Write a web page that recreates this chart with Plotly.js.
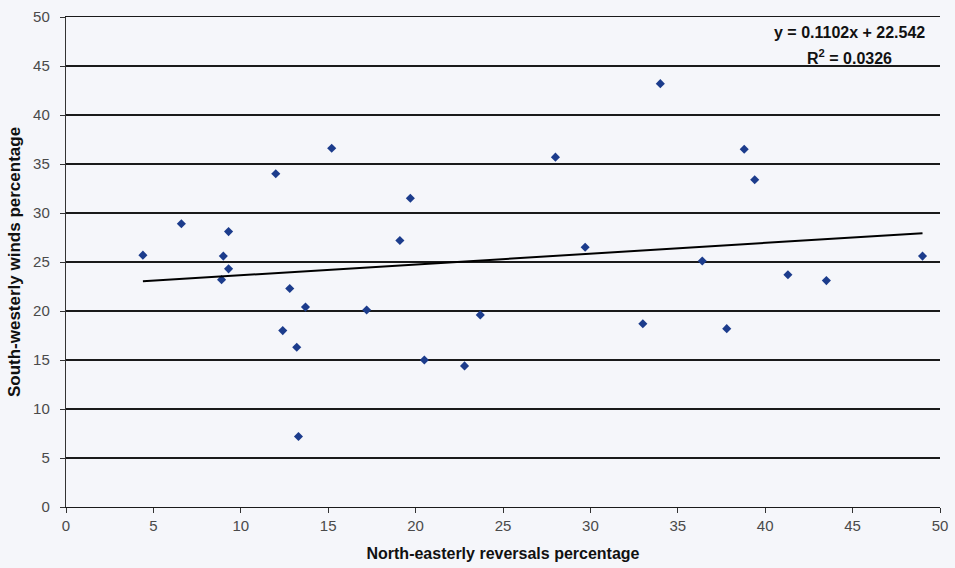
<!DOCTYPE html>
<html>
<head>
<meta charset="utf-8">
<script src="https://cdn.plot.ly/plotly-3.0.1.min.js"></script>
<style>
  html, body { margin: 0; padding: 0; background: #f5f6fa; }
  #chart { width: 955px; height: 568px; }
</style>
</head>
<body>
<div id="chart"></div>
<script>
// North-easterly reversals percentage (x)
const neReversals = [4.4, 6.6, 9.3, 9.0, 9.3, 8.9, 12.0, 12.8, 13.7, 12.4,
                     13.2, 13.3, 15.2, 19.1, 19.7, 17.2, 20.5, 23.7, 22.8, 28.0,
                     29.7, 34.0, 33.0, 36.4, 38.8, 39.4, 37.8, 41.3, 43.5, 49.0];
// South-westerly winds percentage (y)
const swWinds = [25.7, 28.9, 28.1, 25.6, 24.3, 23.2, 34.0, 22.3, 20.4, 18.0,
                 16.3, 7.2, 36.6, 27.2, 31.5, 20.1, 15.0, 19.6, 14.4, 35.7,
                 26.5, 43.2, 18.7, 25.1, 36.5, 33.4, 18.2, 23.7, 23.1, 25.6];
// Linear trend reported on the chart
const slope = 0.1102;
const intercept = 22.542;
const rSquared = 0.0326;
const xTickVals = [0, 5, 10, 15, 20, 25, 30, 35, 40, 45, 50];
const yTickVals = [0, 5, 10, 15, 20, 25, 30, 35, 40, 45, 50];

const xMin = Math.min(...neReversals);
const xMax = Math.max(...neReversals);
const trendX = [xMin, xMax];
const trendY = trendX.map(v => slope * v + intercept);

const font = 'Liberation Sans, Arial, sans-serif';

const data = [
  {
    x: neReversals, y: swWinds, type: 'scatter', mode: 'markers',
    marker: { symbol: 'diamond', size: 7, color: '#1c3c8c' },
    hoverinfo: 'x+y'
  },
  {
    x: trendX, y: trendY, type: 'scatter', mode: 'lines',
    line: { color: '#000000', width: 2 },
    hoverinfo: 'skip'
  }
];

const layout = {
  width: 955, height: 568,
  paper_bgcolor: '#f5f6fa', plot_bgcolor: '#f5f6fa',
  showlegend: false,
  margin: { l: 66, r: 15, t: 17, b: 61 },
  font: { family: font, color: '#4a4a4a' },
  xaxis: {
    range: [0, 50], tickvals: xTickVals, ticktext: xTickVals.map(String),
    showgrid: false, zeroline: false,
    showline: true, linecolor: '#1a1a1a', linewidth: 1.3, mirror: true,
    ticks: 'outside', ticklen: 5, tickcolor: '#333',
    tickfont: { size: 15, color: '#4a4a4a', family: font },
    title: { text: 'North-easterly reversals percentage', standoff: 14,
             font: { size: 16, color: '#111', family: font, weight: 'bold' } }
  },
  yaxis: {
    range: [0, 50], tickvals: yTickVals, ticktext: yTickVals.map(String),
    showgrid: true, gridcolor: '#1a1a1a', gridwidth: 1.2,
    zeroline: false,
    showline: true, linecolor: '#333', linewidth: 1.2,
    ticks: 'outside', ticklen: 5, tickcolor: '#333',
    ticklabelstandoff: 7,
    tickfont: { size: 15, color: '#4a4a4a', family: font },
    title: { text: 'South-westerly winds percentage', standoff: 8,
             font: { size: 17, color: '#111', family: font, weight: 'bold' } }
  },
  annotations: [
    {
      xref: 'paper', yref: 'paper', x: 0.897, y: 0.969,
      xanchor: 'center', yanchor: 'middle', showarrow: false,
      text: 'y = ' + slope + 'x + ' + intercept,
      font: { size: 16, color: '#111', family: font, weight: 'bold' }
    },
    {
      xref: 'paper', yref: 'paper', x: 0.897, y: 0.918,
      xanchor: 'center', yanchor: 'middle', showarrow: false,
      text: 'R<sup>2</sup> = ' + rSquared,
      font: { size: 16, color: '#111', family: font, weight: 'bold' }
    }
  ]
};

Plotly.newPlot('chart', data, layout, { displayModeBar: false, staticPlot: true });
</script>
</body>
</html>
